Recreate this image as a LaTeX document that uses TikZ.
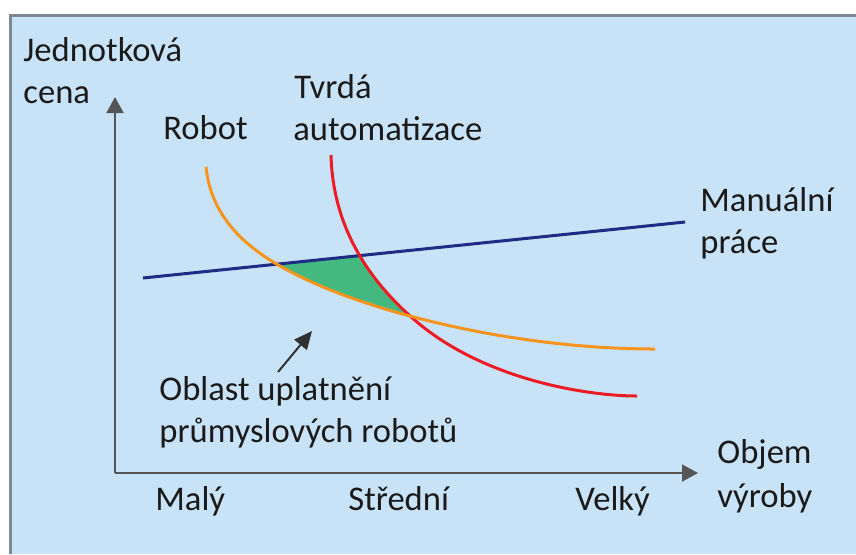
\documentclass[tikz,border=0pt]{standalone}
\usepackage{fontspec}
\setmainfont{Carlito}
\usetikzlibrary{arrows.meta}
\definecolor{bgblue}{HTML}{C8E3F7}
\definecolor{framegray}{HTML}{7E8892}
\definecolor{axisgray}{HTML}{555555}
\definecolor{navy}{HTML}{1F2B85}
\definecolor{orng}{HTML}{F7941D}
\definecolor{rd}{HTML}{ED1C24}
\definecolor{grn}{HTML}{43B97F}
\definecolor{txt}{HTML}{1A1A1A}
\tikzset{
  lbl/.style={anchor=base west, inner sep=0pt, font=\fontsize{17.3}{21}\selectfont, text=txt},
  axisline/.style={draw=axisgray, line width=1pt, -{Triangle[length=8pt,width=8.5pt]}},
  pointer/.style={draw=txt!90, line width=1pt, -{Triangle[length=9pt,width=8pt]}},
  curve/.style={line width=1.5pt},
  orangecurve/.style={insert path={(206,167) .. controls (212,225) and (257,256) .. (303,278) .. controls (380,315) and (520,349) .. (655,349)}},
  redcurve/.style={insert path={(331,155) .. controls (333,235) and (377,288) .. (417,322) .. controls (487,381) and (590,396) .. (637,396)}},
}
\begin{document}
\begin{tikzpicture}[x=0.5pt,y=-0.5pt]
\useasboundingbox (0,0) rectangle (856,554);
\fill[bgblue] (10,15) rectangle (856,554);
\draw[framegray, line width=1.5pt] (856,15) -- (10,15) -- (10,554);

% green area
\begin{scope}
  \clip (143,278) -- (685,222) -- (685,600) -- (143,600) -- cycle;
  \clip[orangecurve] -- (655,0) -- (206,0) -- cycle;
  \clip[redcurve] -- (637,700) -- (0,700) -- (0,-100) -- (331,-100) -- cycle;
  \fill[grn] (0,0) rectangle (856,554);
\end{scope}

% axes
\coordinate (O) at (115,473);
\coordinate (ytip) at (115,97);
\coordinate (xtip) at (698,473);
\draw[axisline] (O) -- (ytip);
\draw[axisline] (O) -- (xtip);

% curves
\coordinate (mS) at (143,278);
\coordinate (mE) at (685,222);
\draw[navy, curve] (mS) -- (mE);
\draw[rd, curve, redcurve];
\draw[orng, curve, orangecurve];

% pointer arrow
\coordinate (pS) at (278,372);
\coordinate (pE) at (312,331);
\draw[pointer] (pS) -- (pE);

% labels
\node[lbl] (y1) at (23,61) {Jednotková};
\node[lbl] (y2) at (23,103) {cena};
\node[lbl] (rob) at (163,139) {Robot};
\node[lbl] (t1) at (294,98) {Tvrdá};
\node[lbl] (t2) at (293,140) {automatizace};
\node[lbl] (m1) at (700,211) {Manuální};
\node[lbl] (m2) at (700,253) {práce};
\node[lbl] (o1) at (159,400) {Oblast uplatnění};
\node[lbl] (o2) at (159,442) {průmyslových robotů};
\node[lbl] (s1) at (155,510) {Malý};
\node[lbl] (s2) at (348,510) {Střední};
\node[lbl] (s3) at (575,510) {Velký};
\node[lbl] (x1) at (717,463) {Objem};
\node[lbl] (x2) at (717,507) {výroby};
\end{tikzpicture}
\end{document}
